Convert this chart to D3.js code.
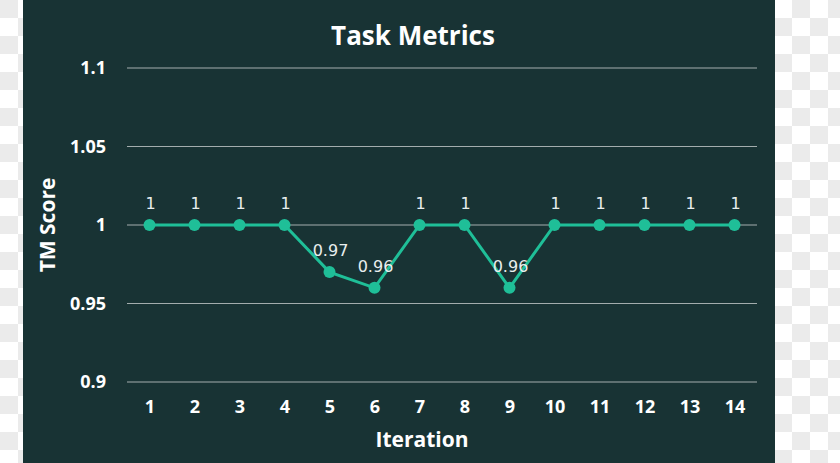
<!DOCTYPE html>
<html>
<head>
<meta charset="utf-8">
<script src="https://cdn.jsdelivr.net/npm/d3@7"></script>
<style>
  body { margin: 0; }
  svg { display: block; }
</style>
</head>
<body>
<svg width="840" height="463"></svg>
<script>
const iterations = [1, 2, 3, 4, 5, 6, 7, 8, 9, 10, 11, 12, 13, 14];
const tmScore = [1, 1, 1, 1, 0.97, 0.96, 1, 1, 0.96, 1, 1, 1, 1, 1];
const yTicks = [0.9, 0.95, 1, 1.05, 1.1];

const svg = d3.select('svg');
const W = 840, H = 463;

// transparent checkerboard behind the panel
const defs = svg.append('defs');
const pat = defs.append('pattern')
    .attr('id', 'checker')
    .attr('width', 36).attr('height', 36)
    .attr('patternUnits', 'userSpaceOnUse');
pat.append('rect').attr('width', 36).attr('height', 36).attr('fill', '#ffffff');
pat.append('rect').attr('width', 18).attr('height', 18).attr('fill', '#ebebeb');
pat.append('rect').attr('x', 18).attr('y', 18).attr('width', 18).attr('height', 18).attr('fill', '#ebebeb');
svg.append('rect').attr('width', W).attr('height', H).attr('fill', 'url(#checker)');

svg.append('rect')
    .attr('x', 23).attr('y', 0)
    .attr('width', 752).attr('height', H)
    .attr('fill', '#183334');

const plotL = 127, plotR = 757, plotT = 68, plotB = 382;

const x = d3.scalePoint()
    .domain(iterations)
    .range([plotL, plotR])
    .padding(0.5);

const y = d3.scaleLinear()
    .domain([0.9, 1.1])
    .range([plotB, plotT]);

// grid
svg.append('g')
    .selectAll('line')
    .data(yTicks)
    .enter().append('line')
    .attr('x1', plotL).attr('x2', plotR)
    .attr('y1', d => y(d)).attr('y2', d => y(d))
    .attr('stroke', '#a3adad')
    .attr('stroke-width', 1.2);

// y axis labels
const yAxis = svg.append('g')
    .attr('transform', `translate(${plotL}, 0)`)
    .call(d3.axisLeft(y).tickValues(yTicks).tickSize(0).tickPadding(21).tickFormat(d3.format('')));
yAxis.select('.domain').remove();
yAxis.selectAll('text')
    .attr('fill', '#ffffff')
    .attr('font-family', 'Open Sans')
    .attr('font-weight', 'bold')
    .attr('font-size', 18);

// x axis labels
const xAxis = svg.append('g')
    .attr('transform', `translate(0, ${plotB})`)
    .call(d3.axisBottom(x).tickSize(0).tickPadding(18));
xAxis.select('.domain').remove();
xAxis.selectAll('text')
    .attr('fill', '#ffffff')
    .attr('font-family', 'Open Sans')
    .attr('font-weight', 'bold')
    .attr('font-size', 18);

// titles
svg.append('text')
    .attr('x', 413).attr('y', 45)
    .attr('text-anchor', 'middle')
    .attr('fill', '#ffffff')
    .attr('font-family', 'Open Sans')
    .attr('font-weight', 'bold')
    .attr('font-size', 26)
    .text('Task Metrics');

svg.append('text')
    .attr('x', 422).attr('y', 447)
    .attr('text-anchor', 'middle')
    .attr('fill', '#ffffff')
    .attr('font-family', 'Open Sans')
    .attr('font-weight', 'bold')
    .attr('font-size', 21)
    .text('Iteration');

svg.append('text')
    .attr('transform', 'translate(55, 225) rotate(-90)')
    .attr('text-anchor', 'middle')
    .attr('fill', '#ffffff')
    .attr('font-family', 'Open Sans')
    .attr('font-weight', 'bold')
    .attr('font-size', 21)
    .text('TM Score');

// series
const pts = iterations.map((d, i) => ({ it: d, v: tmScore[i] }));

svg.append('path')
    .datum(pts)
    .attr('fill', 'none')
    .attr('stroke', '#1fbf98')
    .attr('stroke-width', 3)
    .attr('d', d3.line().x(d => x(d.it)).y(d => y(d.v)));

svg.append('g')
    .selectAll('circle')
    .data(pts)
    .enter().append('circle')
    .attr('cx', d => x(d.it))
    .attr('cy', d => y(d.v))
    .attr('r', 6)
    .attr('fill', '#1fbf98');

svg.append('g')
    .selectAll('text')
    .data(pts)
    .enter().append('text')
    .attr('x', d => x(d.it) + 1)
    .attr('y', d => y(d.v) - 16)
    .attr('text-anchor', 'middle')
    .attr('fill', '#e8eeee')
    .attr('font-family', 'DejaVu Sans')
    .attr('font-size', 16)
    .text(d => d.v);
</script>
</body>
</html>
